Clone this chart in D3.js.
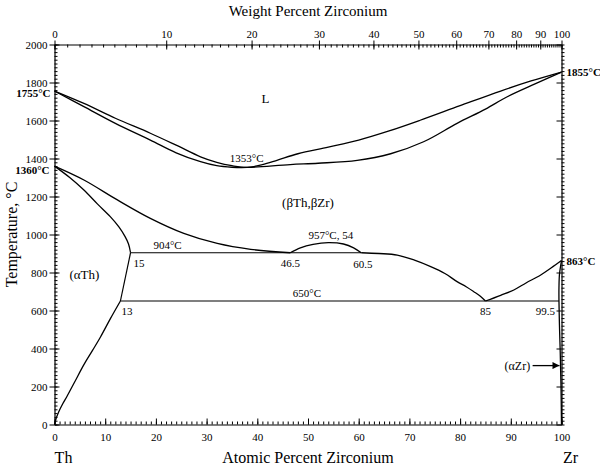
<!DOCTYPE html>
<html><head><meta charset="utf-8">
<script src="https://cdn.jsdelivr.net/npm/d3@7"></script>
<style>
body{margin:0;background:#fff}
svg text{font-family:"Liberation Serif","DejaVu Serif","Times New Roman",Times,serif !important;fill:#000}
</style>
</head><body>
<svg id="c" width="600" height="467"></svg>
<script>
// ---- tick labels ----
const atTicks = [0,10,20,30,40,50,60,70,80,90,100];
const wtTicks = [0,10,20,30,40,50,60,70,80,90,100];
const tempTicks = [0,200,400,600,800,1000,1200,1400,1600,1800,2000];

// ---- phase boundaries [at% Zr, T °C] ----
const liquidus = [[0,1755],[5.8,1690],[12,1612],[18.9,1533],[24,1470],[28.8,1409],[32,1380],[35,1362],[38,1353],[41,1368],[44,1392],[48,1425],[54,1460],[60,1497],[66,1545],[72,1600],[80,1678],[88,1755],[94,1808],[100,1855]];
const solidus = [[0,1755],[5.8,1673],[12,1585],[18.9,1497],[24,1430],[28.8,1383],[32,1362],[35,1354],[38,1353],[46.5,1368],[52,1375],[59.7,1390],[66.3,1425],[72.8,1488],[79.4,1585],[85,1660],[89.3,1725],[95,1795],[100,1855]];
const alphaThUpper = [[0,1360],[3,1300],[5.8,1234],[8.5,1160],[11,1094],[12.7,1040],[13.9,990],[14.6,950],[15,904]];
const betaLeft = [[0,1360],[5.8,1287],[12.4,1182],[18.9,1085],[25.5,1006],[32.1,953],[38.7,922],[46.5,904]];
const dome = [[46.5,904],[48.5,930],[51,948],[54,957],[57,950],[59,930],[60.5,904]];
const betaRight = [[60.5,904],[64,900],[67.6,892],[71,865],[74.2,831],[77,795],[79.4,752],[81.2,725],[82.7,699],[84,675],[85,650]];
const betaZr = [[85,650],[88,680],[90.6,708],[93,745],[95.9,787],[98,825],[100,863]];
const alphaZr = [[100,863],[99.6,790],[99.5,720],[99.5,650],[99.6,520],[99.75,380],[99.9,200],[100,0]];
const alphaThSolvus = [[0,0],[0.3,30],[0.8,65],[1.6,108],[2.5,150],[4,225],[5.8,315],[7.5,390],[9.1,462],[11,556],[13,650]];
const alphaThStraight = [[13,650],[15,904]];
const monotectoid = [[15,904],[60.5,904]];
const eutectoid = [[13,650],[99.5,650]];

// ---- scales ----
const FONT = '"Liberation Serif","DejaVu Serif","Times New Roman",Times,serif';
const svg = d3.select("#c");
const x = d3.scaleLinear().domain([0,100]).range([54.5,561.5]);
const y = d3.scaleLinear().domain([0,2000]).range([424.5,44.5]);
const wtToAt = w => { const a=w/91.224, b=(100-w)/232.038; return 100*a/(a+b); };

// ---- axes ----
function styleAxis(g){
  g.attr("font-family",FONT);
  g.selectAll("path.domain").attr("stroke","#000").attr("stroke-width",1.2);
  g.selectAll("line").attr("stroke","#000").attr("stroke-width",1);
  g.selectAll("text").attr("font-family",FONT).attr("font-size",11).attr("fill","#000"); }

// bottom
svg.append("g").attr("transform",`translate(0,${y(0)})`)
  .call(d3.axisBottom(x).tickValues(d3.range(0,101,1)).tickSize(-3).tickSizeOuter(0).tickFormat(""))
  .call(styleAxis);
svg.append("g").attr("transform",`translate(0,${y(0)})`)
  .call(d3.axisBottom(x).tickValues(atTicks).tickSize(-6).tickSizeOuter(0).tickPadding(9).tickFormat(d3.format("d")))
  .call(styleAxis).call(g=>g.select(".domain").remove());
// top
svg.append("g").attr("transform",`translate(0,${y(2000)})`)
  .call(d3.axisTop(x).tickValues(d3.range(0,101,1).map(wtToAt)).tickSize(-3).tickSizeOuter(0).tickFormat(""))
  .call(styleAxis);
svg.append("g").attr("transform",`translate(0,${y(2000)})`)
  .call(d3.axisTop(x).tickValues(wtTicks.map(wtToAt)).tickSize(4).tickSizeOuter(0).tickPadding(3).tickFormat((d,i)=>wtTicks[i]))
  .call(styleAxis).call(g=>g.select(".domain").remove());
svg.append("g").attr("transform",`translate(0,${y(2000)})`)
  .call(d3.axisTop(x).tickValues(wtTicks.map(wtToAt)).tickSize(-5).tickSizeOuter(0).tickFormat(""))
  .call(styleAxis).call(g=>g.select(".domain").remove());
// left
svg.append("g").attr("transform",`translate(${x(0)},0)`)
  .call(d3.axisLeft(y).tickValues(d3.range(0,2001,20)).tickSize(-3).tickSizeOuter(0).tickFormat(""))
  .call(styleAxis);
svg.append("g").attr("transform",`translate(${x(0)},0)`)
  .call(d3.axisLeft(y).tickValues(tempTicks).tickSize(5).tickSizeOuter(0).tickPadding(2).tickFormat(d3.format("d")))
  .call(styleAxis).call(g=>g.select(".domain").remove());
svg.append("g").attr("transform",`translate(${x(0)},0)`)
  .call(d3.axisLeft(y).tickValues(tempTicks).tickSize(-5).tickSizeOuter(0).tickFormat(""))
  .call(styleAxis).call(g=>g.select(".domain").remove());
// right
svg.append("g").attr("transform",`translate(${x(100)},0)`)
  .call(d3.axisRight(y).tickValues(d3.range(0,2001,20)).tickSize(3).tickSizeOuter(0).tickFormat(""))
  .call(styleAxis);
svg.append("g").attr("transform",`translate(${x(100)},0)`)
  .call(d3.axisRight(y).tickValues(tempTicks).tickSize(-5).tickSizeOuter(0).tickFormat(""))
  .call(styleAxis).call(g=>g.select(".domain").remove());

// ---- curves ----
const line = d3.line().x(d=>x(d[0])).y(d=>y(d[1]));
const smooth = d3.line().x(d=>x(d[0])).y(d=>y(d[1])).curve(d3.curveCatmullRom.alpha(0.5));
const curves = [liquidus, solidus, alphaThUpper, betaLeft, dome, betaRight, betaZr, alphaZr, alphaThSolvus];
svg.append("g").selectAll("path").data(curves).join("path")
  .attr("d", smooth).attr("fill","none").attr("stroke","#000").attr("stroke-width",1.3);
svg.append("g").selectAll("path").data([alphaThStraight, monotectoid, eutectoid]).join("path")
  .attr("d", line).attr("fill","none").attr("stroke","#000").attr("stroke-width",1.2);

// ---- labels ----
function txt(s, px, py, opts={}){
  return svg.append("text").attr("x",px).attr("y",py).attr("font-family",FONT)
    .attr("font-size",opts.size||11).attr("font-weight",opts.bold?"bold":"normal")
    .attr("text-anchor",opts.anchor||"middle").text(s);
}
txt("Weight Percent Zirconium", 308, 16, {size:15});
txt("Atomic Percent Zirconium", 308, 463, {size:16});
txt("Th", x(0)+9, 463, {size:16});
txt("Zr", x(100)+9, 463, {size:16});
svg.append("text").attr("transform",`translate(17,${y(1000)}) rotate(-90)`).attr("font-family",FONT)
  .attr("text-anchor","middle").attr("font-size",16).text("Temperature, °C");

txt("1755°C", x(0)-4, y(1755)+6, {bold:true, anchor:"end"});
txt("1360°C", x(0)-5, y(1360)+8, {bold:true, anchor:"end"});
txt("1855°C", x(100)+5, y(1855)+4, {bold:true, anchor:"start"});
txt("863°C", x(100)+5, y(863)+4, {bold:true, anchor:"start"});

txt("L", x(41.6), y(1690), {size:13});
txt("(βTh,βZr)", x(50), y(1145), {size:13});
txt("(αTh)", x(5.9), y(765), {size:13});
txt("1353°C", x(37.9), y(1353)-5);
txt("904°C", x(22.3), y(904)-4);
txt("15", x(15)+3, y(904)+14, {anchor:"start"});
txt("46.5", x(46.5), y(904)+14);
txt("957°C, 54", x(54.5), y(957)-4);
txt("60.5", x(60.8), y(904)+15);
txt("13", x(13)+1, y(650)+14, {anchor:"start"});
txt("650°C", x(49.8), y(650)-4);
txt("85", x(85), y(650)+14);
txt("99.5", x(96.8), y(650)+14);
txt("(αZr)", x(91.3), y(310)+4, {size:12});
// arrow
svg.append("defs").append("marker").attr("id","ah").attr("viewBox","0 0 10 10")
  .attr("refX",10).attr("refY",5).attr("markerWidth",9).attr("markerHeight",7).attr("orient","auto")
  .attr("markerUnits","userSpaceOnUse")
  .append("path").attr("d","M0,0L10,5L0,10Z").attr("fill","#000");
svg.append("line").attr("x1",x(94.3)).attr("x2",x(99.6)).attr("y1",y(310)).attr("y2",y(310))
  .attr("stroke","#000").attr("stroke-width",1.3).attr("marker-end","url(#ah)");
</script>
</body></html>
